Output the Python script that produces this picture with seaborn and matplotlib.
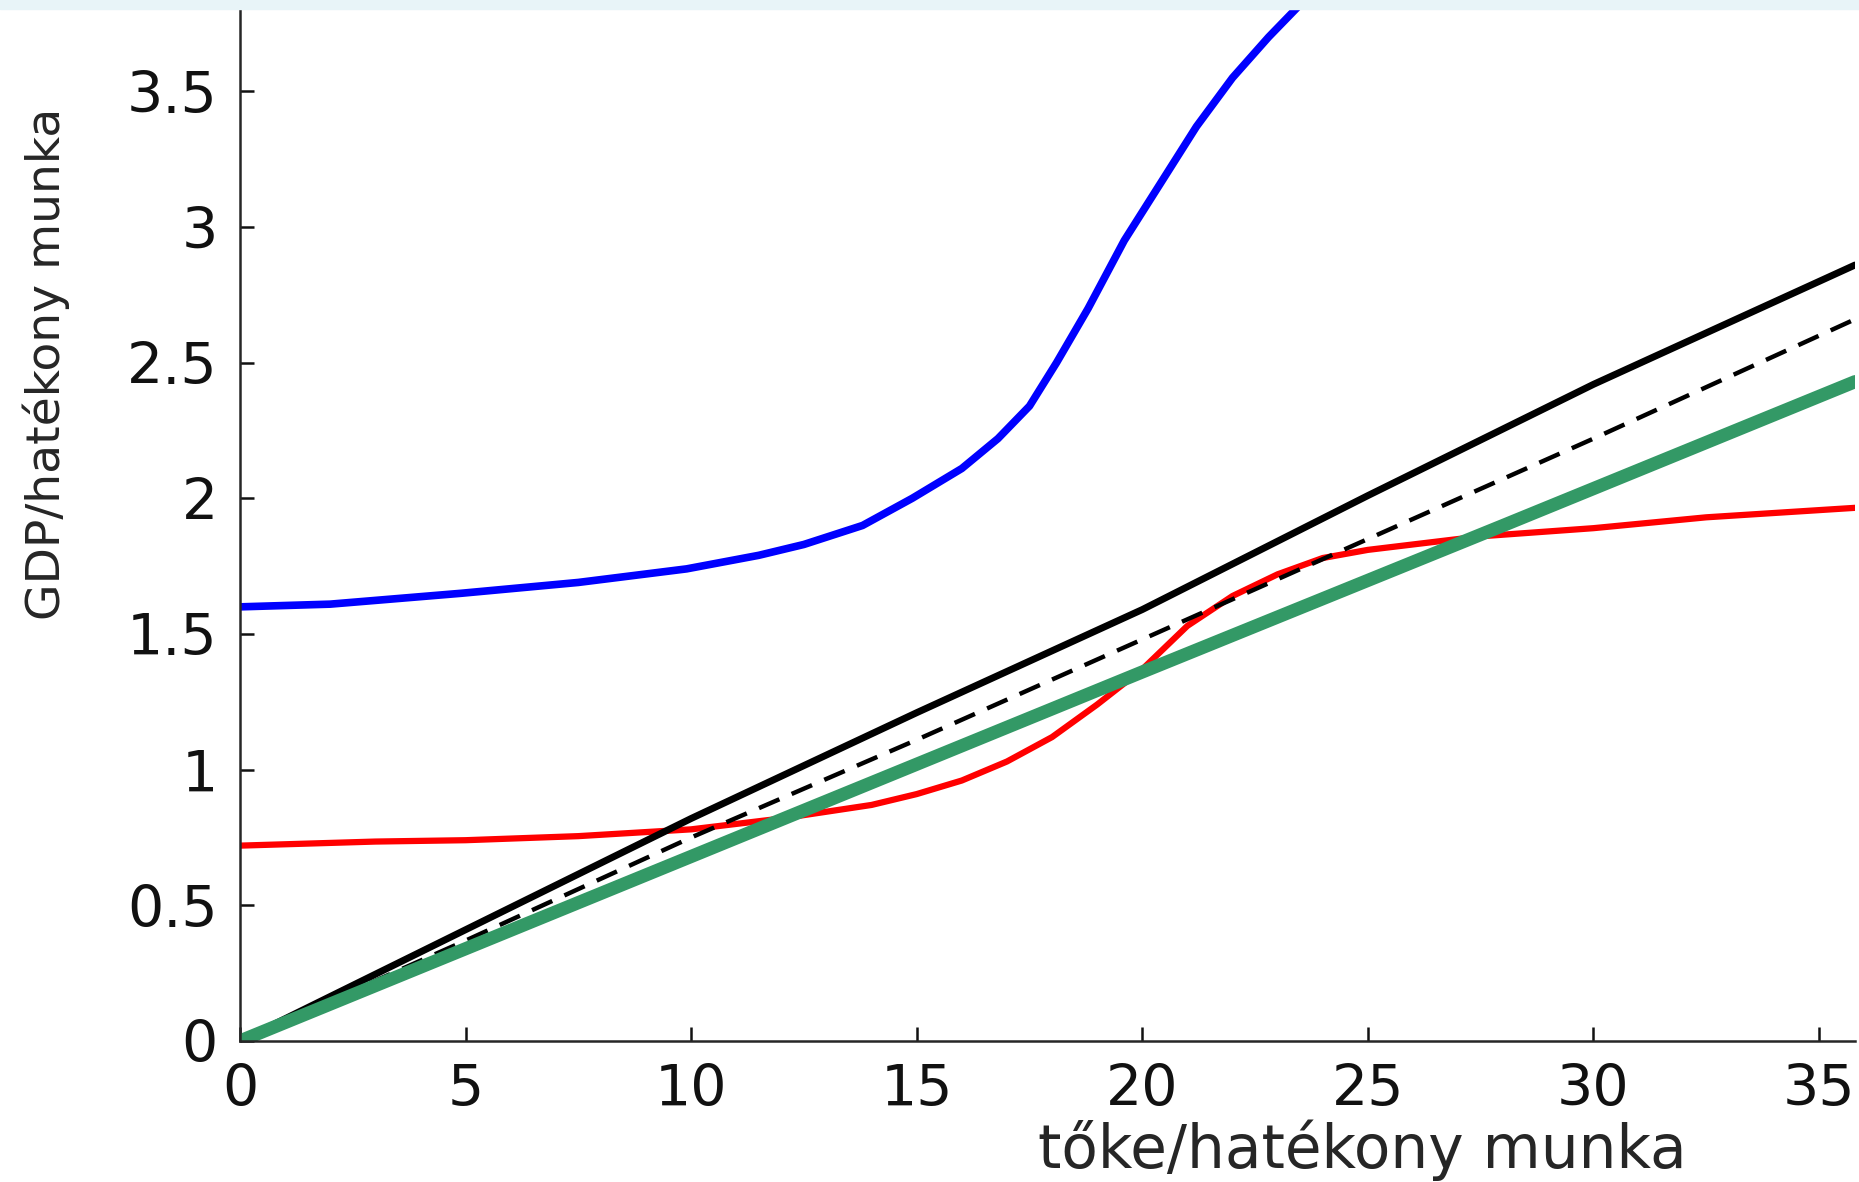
import matplotlib
matplotlib.use("Agg")
import matplotlib.pyplot as plt
import seaborn as sns
import numpy as np
from matplotlib.patches import Rectangle

# data
blue_x = [0, 2, 4.9, 7.5, 9.9, 11.5, 12.5, 13.8, 14.9, 16.0, 16.8, 17.5, 18.1, 18.8, 19.6, 20.4,
          21.2, 22.0, 22.8, 23.5]
blue_y = [1.60, 1.61, 1.65, 1.69, 1.74, 1.79, 1.83, 1.90, 2.00, 2.11, 2.22, 2.34, 2.50, 2.70, 2.95, 3.16,
          3.37, 3.55, 3.70, 3.82]

red_x = [0, 3, 5, 7.5, 10, 12, 14, 15, 16, 17, 18, 19, 20, 21, 22, 23, 24, 25, 26, 27.5, 30, 32.5, 35.8]
red_y = [0.72, 0.735, 0.74, 0.755, 0.78, 0.82, 0.87, 0.91, 0.96, 1.03, 1.12, 1.24, 1.37, 1.53, 1.64, 1.72,
         1.78, 1.81, 1.83, 1.86, 1.89, 1.93, 1.965]

black_x = [0, 5, 10, 15, 20, 25, 30, 35.8]
black_y = [0, 0.41, 0.82, 1.21, 1.59, 2.01, 2.42, 2.86]

dashed_x = [0, 5, 10, 15, 20, 25, 30, 35.8]
dashed_y = [0, 0.37, 0.75, 1.11, 1.48, 1.85, 2.22, 2.66]

green_x = [0, 10, 20, 28, 35.8]
green_y = [0, 0.68, 1.36, 1.90, 2.43]

sns.set_style("ticks")
plt.rcParams['font.family'] = ['DejaVu Sans']

fig = plt.figure(figsize=(18.59, 11.82), dpi=100)
ax = fig.add_axes([0.1291, 0.1193, 0.8688, 0.8723])

sns.lineplot(x=blue_x, y=blue_y, color='#0000ff', linewidth=5.5, ax=ax)
sns.lineplot(x=red_x, y=red_y, color='#ff0000', linewidth=4.5, ax=ax)
sns.lineplot(x=black_x, y=black_y, color='black', linewidth=5.0, ax=ax)
sns.lineplot(x=dashed_x, y=dashed_y, color='black', linewidth=3.2, linestyle=(0, (5, 3)), ax=ax)
sns.lineplot(x=green_x, y=green_y, color='#339966', linewidth=9.5, ax=ax)

ax.set_xlim(0, 35.8)
ax.set_ylim(0, 3.8)
ax.set_xticks([0, 5, 10, 15, 20, 25, 30, 35])
ax.set_yticks([0, 0.5, 1, 1.5, 2, 2.5, 3, 3.5])
ax.set_yticklabels(['0', '0.5', '1', '1.5', '2', '2.5', '3', '3.5'])

sns.despine(ax=ax)
for s in ['left', 'bottom']:
    ax.spines[s].set_linewidth(1.8)
ax.tick_params(direction='in', length=10, width=1.8, labelsize=41, pad=16, colors='#111111')

ax.set_xlabel('tőke/hatékony munka', fontsize=43)
ax.set_ylabel('GDP/hatékony munka', fontsize=34)
ax.xaxis.set_label_coords(0.695, -0.076)
ax.yaxis.set_label_coords(-0.105, 0.657)

# thin light strip along the top edge, as in the screenshot
fig.patches.append(Rectangle((0, 0.992), 1, 0.008, transform=fig.transFigure,
                             color='#e8f4f8', zorder=0))

fig.savefig('out.png', dpi=100)
